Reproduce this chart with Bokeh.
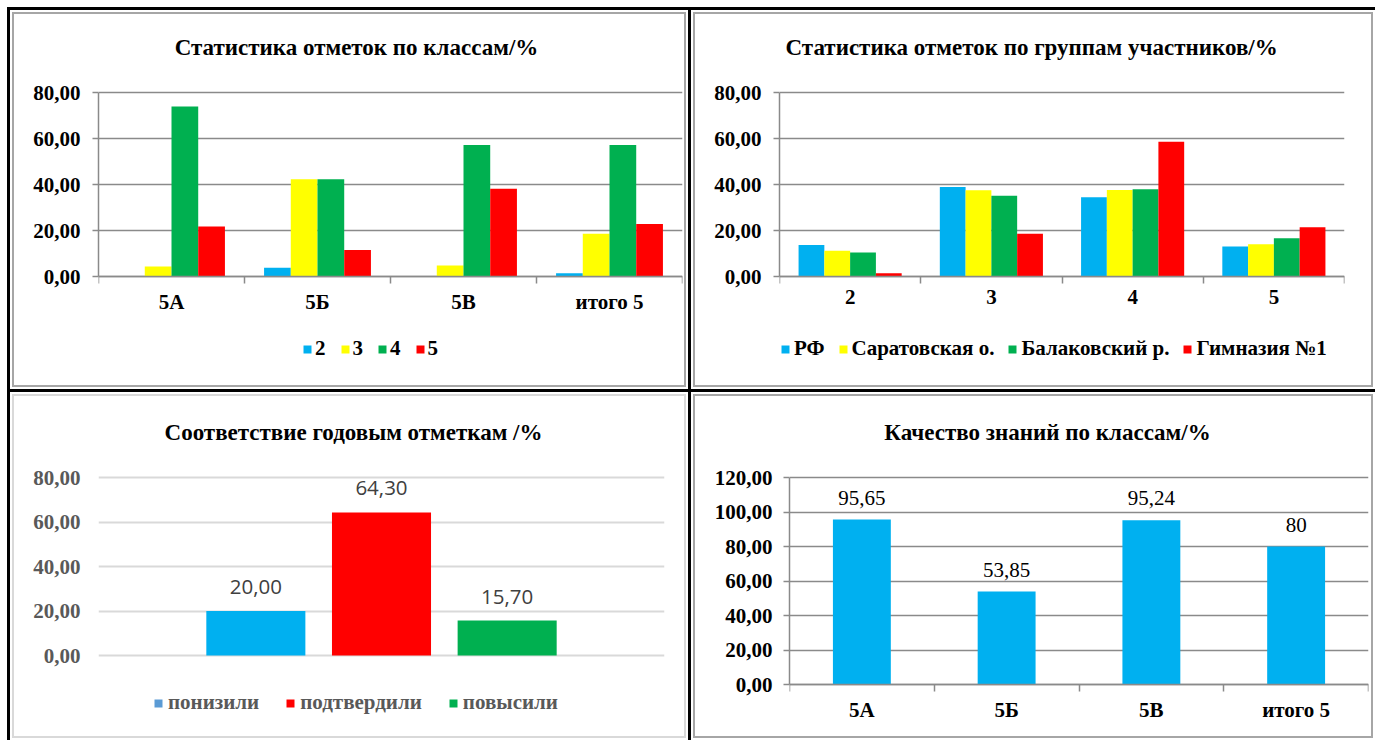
from bokeh.plotting import figure
from bokeh.models import (ColumnDataSource, FixedTicker, Legend, LegendItem, Label,
                          LabelSet, Range1d, CustomJSTickFormatter)
from bokeh.layouts import row, column
from bokeh.transform import dodge
from bokeh.core.properties import value
from bokeh.embed import file_html
from bokeh.resources import INLINE

# ---------------- data ----------------
classes = ["5А", "5Б", "5В", "итого 5"]
marks = ["2", "3", "4", "5"]
class_mark2 = [0.00, 3.85, 0.00, 1.43]
class_mark3 = [4.35, 42.31, 4.76, 18.57]
class_mark4 = [73.91, 42.31, 57.14, 57.14]
class_mark5 = [21.74, 11.54, 38.10, 22.86]

groups = ["РФ", "Саратовская о.", "Балаковский р.", "Гимназия №1"]
grp_rf = [13.70, 38.90, 34.50, 13.00]
grp_sar = [11.20, 37.50, 37.60, 14.00]
grp_bal = [10.40, 35.10, 37.90, 16.60]
grp_gym = [1.43, 18.57, 58.57, 21.43]

match_cats = ["понизили", "подтвердили", "повысили"]
match_vals = [20.00, 64.30, 15.70]
match_text = ["20,00", "64,30", "15,70"]

quality_vals = [95.65, 53.85, 95.24, 80]
quality_text = ["95,65", "53,85", "95,24", "80"]

ticks_80 = [0, 20, 40, 60, 80]
ticks_120 = [0, 20, 40, 60, 80, 100, 120]

titles = ["Статистика отметок по классам/%",
          "Статистика отметок  по группам участников/%",
          "Соответствие годовым отметкам /%",
          "Качество знаний по классам/%"]

# ---------------- style ----------------
SERIF = "Liberation Serif"
GRID = "#8a8a8a"
LIGHT = "#d9d9d9"
FRAME = "#a6a6a6"
C_BLUE, C_YEL, C_GRN, C_RED, C_LEG = "#00B0F0", "#FFFF00", "#00B050", "#FF0000", "#5B9BD5"
LBL = "21px"
TTL = "23px"
EDGE = 6  # frame top/bottom inset inside the canvas

fmt = CustomJSTickFormatter(code="return tick.toFixed(2).replace('.', ',');")


class Panel:
    """A chart panel: canvas size, plot-area box (canvas px) and value range.
    The frame spans (almost) the whole canvas height so that titles and legends
    sit inside it; the value axis is limited to the real value range."""

    def __init__(self, w, h, left, right, plot_top, plot_bottom, xr, yr, frame_color, **kw):
        self.w, self.h, self.l, self.r = w, h, left, right
        self.ft, self.fb = EDGE, h - EDGE
        k = (yr[1] - yr[0]) / (plot_bottom - plot_top)      # value per px
        y_hi = yr[1] + (plot_top - self.ft) * k
        y_lo = yr[0] - (self.fb - plot_bottom) * k
        self.xr, self.yr = xr, (y_lo, y_hi)
        p = figure(width=w, height=h, x_range=Range1d(*xr), y_range=Range1d(y_lo, y_hi),
                   output_backend="svg", toolbar_location=None,
                   min_border_left=left, min_border_right=right,
                   min_border_top=EDGE, min_border_bottom=EDGE, **kw)
        p.border_fill_alpha = 0
        p.background_fill_alpha = 0
        p.outline_line_color = None
        p.xgrid.visible = False
        p.styles = {"background-color": "white",
                    "box-shadow": f"inset 0 0 0 2px white, inset 0 0 0 4px {frame_color}"}
        self.p = p

    def data(self, cx, cy):
        fw = self.w - self.l - self.r
        fh = self.fb - self.ft
        x = self.xr[0] + (cx - self.l) / fw * (self.xr[1] - self.xr[0])
        y = self.yr[0] + (self.fb - cy) / fh * (self.yr[1] - self.yr[0])
        return x, y

    def title(self, text, cx, cy):
        x, y = self.data(cx, cy)
        self.p.add_layout(Label(x=x, y=y, text=text, text_align="center",
                                text_baseline="middle", text_font=SERIF,
                                text_font_style="bold", text_font_size=TTL,
                                text_color="black"))

    def legend(self, items, left, cy, spacing, standoff, color="black"):
        vx = left - self.l
        vy = (self.fb - cy) - 12
        leg = Legend(items=items, location=(vx, vy), orientation="horizontal",
                     glyph_width=10, glyph_height=10, label_standoff=standoff,
                     label_width=1, label_height=20,
                     spacing=spacing, padding=0, margin=0, border_line_color=None,
                     background_fill_alpha=0, label_text_font=SERIF,
                     label_text_font_style="bold", label_text_font_size=LBL,
                     label_text_color=color)
        self.p.add_layout(leg)


def style_y(p, ticks, color="black", tick_out=6, standoff=12, axis_line=True,
            grid=GRID, grid_width=1.5):
    ax = p.yaxis[0]
    ax.ticker = FixedTicker(ticks=ticks)
    ax.bounds = (ticks[0], ticks[-1])
    ax.formatter = fmt
    ax.major_label_text_font = SERIF
    ax.major_label_text_font_style = "bold"
    ax.major_label_text_font_size = LBL
    ax.major_label_text_color = color
    ax.major_tick_out = tick_out
    ax.major_tick_in = 0
    ax.major_tick_line_color = GRID if tick_out else None
    ax.major_tick_line_width = 1.5
    ax.minor_tick_line_color = None
    ax.axis_line_color = GRID if axis_line else None
    ax.axis_line_width = 1.5
    ax.major_label_standoff = standoff
    p.ygrid.ticker = FixedTicker(ticks=ticks)
    p.ygrid.grid_line_color = grid
    p.ygrid.grid_line_width = grid_width


def style_x(p, labels, standoff=6):
    n = len(labels)
    xs = [i + 0.5 for i in range(n)]
    ax = p.xaxis[0]
    ax.fixed_location = 0
    ax.ticker = FixedTicker(ticks=xs, minor_ticks=list(range(n + 1)))
    ax.major_label_overrides = {x: lab for x, lab in zip(xs, labels)}
    ax.major_label_text_font = SERIF
    ax.major_label_text_font_style = "bold"
    ax.major_label_text_font_size = LBL
    ax.major_label_text_color = "black"
    ax.major_tick_line_color = None
    ax.major_tick_out = 0
    ax.major_tick_in = 0
    ax.minor_tick_line_color = GRID
    ax.minor_tick_out = 7
    ax.minor_tick_in = 0
    ax.minor_tick_line_width = 1.5
    ax.axis_line_color = GRID
    ax.axis_line_width = 1.5
    ax.major_label_standoff = standoff
    return xs


def grouped_bars(p, xs, series, colors, names, frac):
    bw = frac / len(series)
    items = []
    for k, (vals, c, name) in enumerate(zip(series, colors, names)):
        src = ColumnDataSource(dict(x=xs, top=vals))
        off = (k - (len(series) - 1) / 2) * bw
        r = p.vbar(x=dodge("x", off), top="top", width=bw, bottom=0, source=src,
                   fill_color=c, line_color=None)
        items.append(LegendItem(label=name, renderers=[r]))
    return items


# ---------------- chart 1 ----------------
c1 = Panel(678, 379, 88, 6, 82, 266, (0, 4), (0, 80), FRAME)
p1 = c1.p
style_y(p1, ticks_80)
xs1 = style_x(p1, classes)
it1 = grouped_bars(p1, xs1, [class_mark2, class_mark3, class_mark4, class_mark5],
                   [C_BLUE, C_YEL, C_GRN, C_RED], marks, 0.732)
c1.legend(it1, 292, 339, 14, 3)
c1.title(titles[0], 346, 37)

# ---------------- chart 2 ----------------
c2 = Panel(684, 379, 88, 31, 82, 266, (0, 4), (0, 80), FRAME)
p2 = c2.p
style_y(p2, ticks_80)
xs2 = style_x(p2, marks)
it2 = grouped_bars(p2, xs2, [grp_rf, grp_sar, grp_bal, grp_gym],
                   [C_BLUE, C_YEL, C_GRN, C_RED], groups, 0.73)
c2.legend(it2, 89, 339, 13, 4)
c2.title(titles[1], 343, 37)

# ---------------- chart 3 ----------------
c3 = Panel(678, 348, 88, 24, 85, 263, (0, 1), (0, 80), LIGHT, x_axis_location=None)
p3 = c3.p
style_y(p3, ticks_80, color="#595959", tick_out=0, standoff=18, axis_line=False,
        grid=LIGHT, grid_width=2)
pitch, bw3 = 0.222, 0.175
x3 = [0.5 + (k - 1) * pitch for k in range(len(match_cats))]
src3 = ColumnDataSource(dict(x=x3, top=match_vals, label=match_text,
                             color=[C_BLUE, C_RED, C_GRN]))
p3.vbar(x="x", top="top", width=bw3, bottom=0, source=src3, fill_color="color", line_color=None)
p3.add_layout(LabelSet(x="x", y="top", text="label", source=src3, y_offset=24,
                       text_align="center", text_baseline="middle",
                       text_font=value("Open Sans"), text_font_size=value("20.5px"),
                       text_color="#404040"))
it3 = []
for k, (cat, col) in enumerate(zip(match_cats, [C_LEG, C_RED, C_GRN])):
    s = ColumnDataSource(dict(x=[x3[k]], top=[match_vals[k]]))
    r = p3.vbar(x="x", top="top", width=0, bottom=0, source=s, fill_color=col, line_color=None)
    it3.append(LegendItem(label=cat, renderers=[r]))
c3.legend(it3, 143, 311, 26, 5, color="#595959")
c3.title(titles[2], 343, 40)

# ---------------- chart 4 ----------------
c4 = Panel(684, 348, 98, 7, 85, 292, (0, 4), (0, 120), FRAME)
p4 = c4.p
style_y(p4, ticks_120, standoff=11)
xs4 = style_x(p4, classes)
src4 = ColumnDataSource(dict(x=xs4, top=quality_vals, label=quality_text))
p4.vbar(x="x", top="top", width=0.4, bottom=0, source=src4, fill_color=C_BLUE, line_color=None)
p4.add_layout(LabelSet(x="x", y="top", text="label", source=src4, y_offset=22,
                       text_align="center", text_baseline="middle",
                       text_font=value(SERIF), text_font_size=value("21px"),
                       text_color="black"))
c4.title(titles[3], 356, 40)

table = column(row(p1, p2, spacing=3), row(p3, p4, spacing=3), spacing=3,
               styles={"background-color": "black", "padding": "3px 0 0 3px"},
               margin=(7, 0, 0, 7))

open("out.html", "w").write(file_html(table, INLINE))
